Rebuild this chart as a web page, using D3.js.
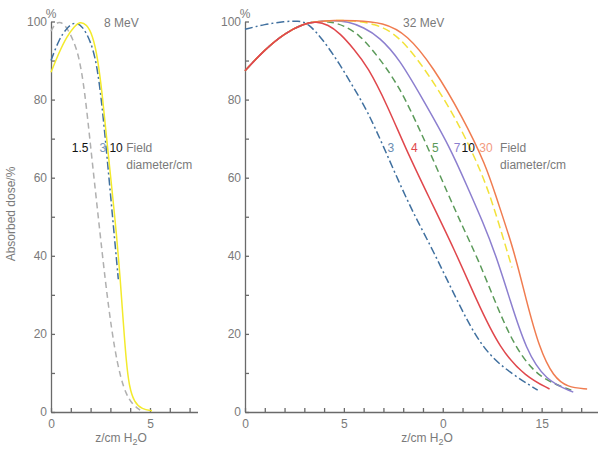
<!DOCTYPE html>
<html>
<head>
<meta charset="utf-8">
<script src="https://cdn.jsdelivr.net/npm/d3@7"></script>
<style>
  body { margin: 0; background: #fff; }
  svg { display: block; font-family: "Liberation Sans", Arial, sans-serif; }
</style>
</head>
<body>
<div id="chart"></div>
<script>
// depth (cm H2O) and absorbed dose (%)

// 8 MeV panel
const depth8_15 = [0, 0.2, 0.5, 0.8, 1.1, 1.4, 1.7, 2.0, 2.3, 2.6, 2.9, 3.2, 3.5, 3.8, 4.1, 4.5];
const dose8_15 = [97.5, 99.5, 100, 98.5, 95.5, 91.5, 82.5, 68, 54, 40, 27, 16.5, 9, 4.5, 2, 0.5];
const depth8_3 = [0, 0.4, 0.8, 1.2, 1.6, 2.0, 2.3, 2.55, 2.8, 3.0, 3.2, 3.4];
const dose8_3 = [90, 95.4, 98.4, 100, 98.8, 95, 89.5, 80, 67, 56, 45, 34];
const depth8_10 = [0, 0.4, 0.8, 1.2, 1.45, 1.8, 2.1, 2.35, 2.6, 2.85, 3.1, 3.3, 3.5, 3.65, 3.8, 3.95, 4.2, 4.6, 5.1];
const dose8_10 = [87, 92, 96.2, 98.8, 100, 99.3, 96.5, 91, 81, 68, 56, 46, 34, 23, 13, 6.5, 2.5, 0.7, 0.3];

// 32 MeV panel
const depth32_3 = [0, 1, 2, 2.7, 3.2, 4.0, 4.8, 5.5, 6.2, 7.0, 7.8, 8.6, 9.5, 10.7, 12.0, 13.4, 14.8];
const dose32_3 = [98, 99.3, 100, 100.2, 99.6, 95, 89, 83, 77, 68, 58.7, 50, 41.5, 28.7, 16, 10, 5.6];
const depth32_4 = [0, 1, 2, 3, 3.6, 4.2, 4.8, 5.5, 6.2, 7.2, 8.1, 9.3, 10.6, 11.7, 12.9, 14.2, 15.4];
const dose32_4 = [87.4, 92.8, 97, 99.5, 100, 99.2, 97, 93, 88.5, 78.5, 67.7, 55, 41.5, 28.7, 16, 9, 5.9];
const depth32_5 = [0, 1, 2, 3, 3.6, 4.3, 5.0, 5.8, 6.4, 7.1, 7.8, 8.4, 9.25, 10.25, 11.0, 11.8, 12.7, 13.7, 14.9, 16.5];
const dose32_5 = [87.4, 92.8, 97, 99.5, 100, 100, 99, 96.5, 93, 88.5, 83, 77, 67.7, 56, 47.5, 39, 27.5, 16, 8.5, 5.6];
const depth32_7 = [0, 1, 2, 3, 3.6, 4.5, 5.2, 6.0, 6.8, 7.8, 9.0, 10.35, 11.3, 12.0, 12.7, 13.4, 14.2, 15.2, 16.6];
const dose32_7 = [87.4, 92.8, 97, 99.5, 100, 100.3, 100, 98.5, 96, 90.5, 80, 68, 57, 49, 40, 28.7, 16, 8, 5.1];
const depth32_10 = [0, 1, 2, 3, 3.6, 4.5, 5.5, 6.5, 7.8, 9.5, 10.9, 11.9, 12.5, 13.5];
const dose32_10 = [87.4, 92.8, 97, 99.5, 100, 100.3, 100.2, 99.5, 96.7, 85, 73, 62, 54, 37];
const depth32_30 = [0, 1, 2, 3, 3.6, 4.5, 5.5, 7.0, 8.2, 9.5, 11.0, 12.2, 12.7, 13.6, 14.2, 14.9, 15.6, 16.3, 17.3];
const dose32_30 = [87.4, 92.8, 97, 99.5, 100, 100.3, 100.3, 99.8, 96.7, 88.5, 75.6, 63, 55, 41.5, 29, 16, 9, 6.3, 5.9];

// ticks
const yTicks = [0, 10, 20, 30, 40, 50, 60, 70, 80, 90, 100];
const xTicks8 = [0, 1, 2, 3, 4, 5, 6, 7];
const xTicks32 = [0, 1, 2, 3, 4, 5, 6, 7, 8, 9, 10, 11, 12, 13, 14, 15, 16, 17];
const xTickLabels8 = { 0: "0", 5: "5" };
const xTickLabels32 = { 0: "0", 5: "5", 10: "0", 15: "15" }; // the "1" of 10 is missing in the original

// field-size labels: [text, depth, dose, colour]
const labels8 = [
  ["1.5", 1.05, 66.5, "#111"],
  ["3", 2.45, 66.5, "#7a98b8"],
  ["10", 2.95, 66.5, "#111"],
];
const labels32 = [
  ["3", 7.2, 66.5, "#6a8cb0"],
  ["4", 8.4, 66.5, "#e0474c"],
  ["5", 9.45, 66.5, "#5b9a59"],
  ["7", 10.55, 66.5, "#8c7fcf"],
  ["10", 10.95, 66.5, "#111"],
  ["30", 11.85, 66.5, "#f29a80"],
];

const chartWidth = 598;
const chartHeight = 449;
const axisColor = "#6a6a6a";
const textColor = "#7a7a7a";

const svg = d3
  .select("#chart")
  .append("svg")
  .attr("width", chartWidth)
  .attr("height", chartHeight);

const y = d3.scaleLinear().domain([0, 100]).range([412, 21.5]);

const zip = (a, b) => a.map((v, i) => [v, b[i]]);

const drawPanel = (panel) => {
  const x = d3.scaleLinear().domain(panel.domain).range(panel.range);
  const g = svg.append("g");

  // x axis
  g.append("g")
    .attr("transform", `translate(0, ${y(0)})`)
    .call(
      d3
        .axisBottom(x)
        .tickValues(panel.xTicks)
        .tickSize(-4)
        .tickSizeOuter(0)
        .tickPadding(7)
        .tickFormat((d) => panel.xLabels[d] ?? "")
    );

  // y axis
  g.append("g")
    .attr("transform", `translate(${x(0)}, 0)`)
    .call(
      d3
        .axisLeft(y)
        .tickValues(yTicks)
        .tickSize(-4)
        .tickSizeOuter(0)
        .tickPadding(4)
        .tickFormat((d) => (d % 20 === 0 ? d : ""))
    );

  g.selectAll(".domain, .tick line")
    .attr("stroke", axisColor)
    .attr("stroke-width", 1.3);
  g.selectAll(".tick text")
    .attr("fill", textColor)
    .style("font-size", "12px");

  // curves
  const line = d3
    .line()
    .x((d) => x(d[0]))
    .y((d) => y(d[1]))
    .curve(d3.curveBasis);

  panel.series.forEach((s) => {
    g.append("path")
      .datum(zip(s.depth, s.dose))
      .attr("d", line)
      .attr("fill", "none")
      .attr("stroke", s.color)
      .attr("stroke-width", 1.5)
      .attr("stroke-dasharray", s.dash || null);
  });

  // "%" unit above y axis
  g.append("text")
    .attr("x", x(0))
    .attr("y", 18)
    .attr("text-anchor", "middle")
    .attr("fill", textColor)
    .style("font-size", "12px")
    .text("%");

  // energy title
  g.append("text")
    .attr("x", panel.titleX)
    .attr("y", 27)
    .attr("fill", textColor)
    .style("font-size", "12px")
    .text(panel.title);

  // x axis title
  const xt = g
    .append("text")
    .attr("x", panel.xTitleX)
    .attr("y", 442)
    .attr("text-anchor", "middle")
    .attr("fill", textColor)
    .style("font-size", "12px");
  xt.append("tspan").text("z/cm H");
  xt.append("tspan").attr("dy", 3).style("font-size", "9px").text("2");
  xt.append("tspan").attr("dy", -3).text("O");

  // field size labels
  panel.labels.forEach(([t, dz, dd, c]) => {
    g.append("text")
      .attr("x", x(dz))
      .attr("y", y(dd))
      .attr("fill", c)
      .style("font-size", "12px")
      .text(t);
  });
  const last = panel.labels[panel.labels.length - 1];
  const fx = x(panel.fieldDepth);
  g.append("text")
    .attr("x", fx)
    .attr("y", y(last[2]))
    .attr("fill", textColor)
    .style("font-size", "12px")
    .text("Field");
  g.append("text")
    .attr("x", fx)
    .attr("y", y(last[2]) + 17)
    .attr("fill", textColor)
    .style("font-size", "12px")
    .text("diameter/cm");
};

drawPanel({
  domain: [0, 7.4],
  range: [51, 197.5],
  xTicks: xTicks8,
  xLabels: xTickLabels8,
  title: "8 MeV",
  titleX: 104,
  xTitleX: 121,
  labels: labels8,
  fieldDepth: 3.8,
  series: [
    { depth: depth8_15, dose: dose8_15, color: "#b0b0b0", dash: "6,4" },
    { depth: depth8_3, dose: dose8_3, color: "#40709f", dash: "8,3,2,3" },
    { depth: depth8_10, dose: dose8_10, color: "#f3ea2c" },
  ],
});

drawPanel({
  domain: [0, 17.85],
  range: [245, 598],
  xTicks: xTicks32,
  xLabels: xTickLabels32,
  title: "32 MeV",
  titleX: 403,
  xTitleX: 427,
  labels: labels32,
  fieldDepth: 12.9,
  series: [
    { depth: depth32_3, dose: dose32_3, color: "#40709f", dash: "8,3,2,3" },
    { depth: depth32_5, dose: dose32_5, color: "#5b9a59", dash: "7,4" },
    { depth: depth32_7, dose: dose32_7, color: "#8c7fcf" },
    { depth: depth32_10, dose: dose32_10, color: "#f2e23a", dash: "8,4" },
    { depth: depth32_30, dose: dose32_30, color: "#f07c50" },
    { depth: depth32_4, dose: dose32_4, color: "#e0474c" },
  ],
});

// shared y axis title
svg
  .append("text")
  .attr("transform", "translate(15, 214) rotate(-90)")
  .attr("text-anchor", "middle")
  .attr("fill", textColor)
  .style("font-size", "12px")
  .text("Absorbed dose/%");
</script>
</body>
</html>
